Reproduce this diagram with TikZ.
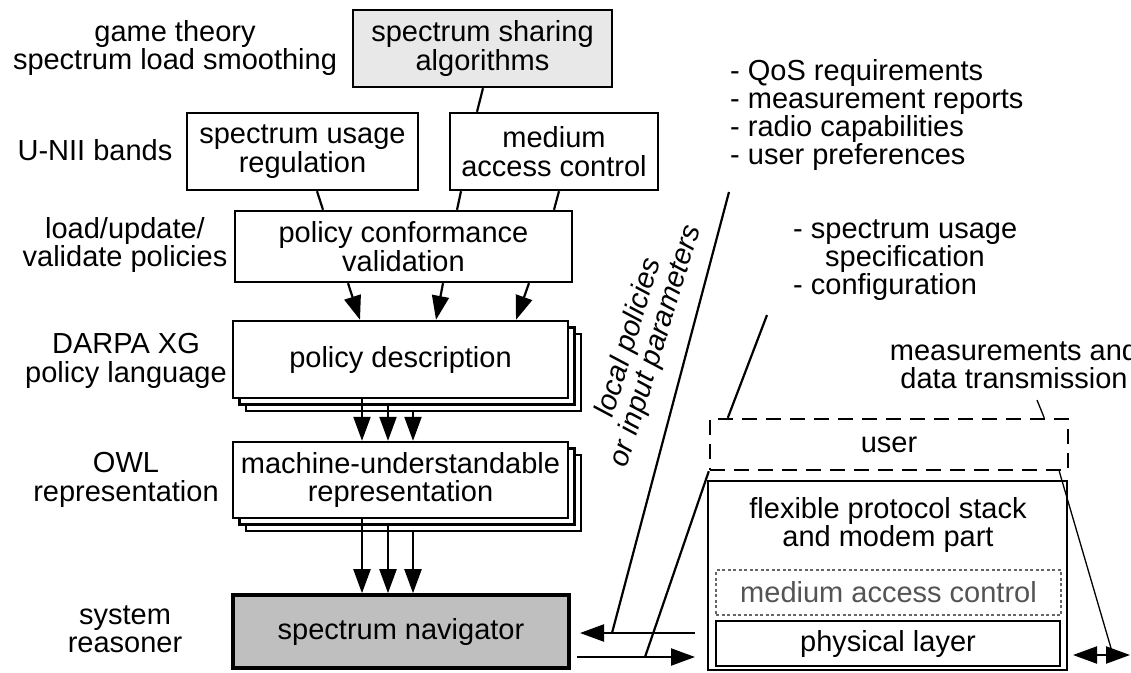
\documentclass[tikz,border=0pt]{standalone}
\usepackage{fontspec}
\setmainfont{Liberation Sans}
\usetikzlibrary{arrows.meta,shadows,calc}
\newcommand\dfont{\fontsize{29pt}{28.3pt}\selectfont}
\definecolor{sharefill}{gray}{0.91}
\definecolor{navfill}{gray}{0.75}
\definecolor{macgray}{gray}{0.4}
\definecolor{mactext}{gray}{0.33}
\begin{document}
\begin{tikzpicture}[x=1pt,y=-1pt,
  every node/.style={font=\dfont, inner sep=0pt, align=center},
  box/.style={draw, line width=2.4pt, fill=white},
  stackbox/.style={box,
    copy shadow={shadow xshift=13pt,shadow yshift=-13pt},
    copy shadow={shadow xshift=6.5pt,shadow yshift=-6.5pt}},
  link/.style={line width=2.2pt},
  thinlink/.style={line width=1.3pt},
  arr/.style={line width=2.2pt, -{Triangle[length=24pt,width=17pt]}},
  darr/.style={line width=2.2pt, {Triangle[length=24pt,width=17pt]}-{Triangle[length=24pt,width=17pt]}},
]
\clip (0,0) rectangle (1131,672);

% left column: layer descriptions
\node (l1) at (175,48) {game theory\\spectrum load smoothing};
\node (l2) at (95,150) {U-NII bands};
\node (l3) at (125,245) {load/update/\\validate policies};
\node (l4) at (126,361) {DARPA XG\\policy language};
\node (l5) at (126,480) {OWL\\representation};
\node (l6) at (125,629) {system\\reasoner};

% policy chain
\node[box, fill=sharefill, minimum width=259pt, minimum height=77pt] (sa) at (482.5,48.5) {spectrum sharing\\algorithms};
\node[box, minimum width=231pt, minimum height=77pt] (ur) at (302.5,151.5) {spectrum usage\\regulation};
\node[box, minimum width=208pt, minimum height=77pt] (mac) at (554,151.5) {medium\\access control};
\node[box, minimum width=337pt, minimum height=71pt] (cv) at (403.5,246.5) {policy conformance\\validation};
\node[stackbox, minimum width=335pt, minimum height=77pt] (pd) at (400.5,359.5) {policy description};
\node[stackbox, minimum width=335pt, minimum height=76pt] (mu) at (400.5,480) {machine-understandable\\representation};
\node[box, line width=3.6pt, fill=navfill, minimum width=336pt, minimum height=73pt] (nav) at (401,631.5) {spectrum navigator};

\draw[link] ([xshift=0.5pt]sa.south) -- ([xshift=-77pt]mac.north);
\draw[link] ([xshift=14.5pt]ur.south) -- ([xshift=-80.5pt]cv.north);
\draw[link] ([xshift=-93pt]mac.south) -- ([xshift=53.5pt]cv.north);
\draw[link] ([xshift=5pt]mac.south) -- ([xshift=150.5pt]cv.north);

\draw[arr] ([xshift=-55.5pt]cv.south) -- ([xshift=-40.5pt]pd.north);
\draw[arr] ([xshift=39.5pt]cv.south) -- ([xshift=35.5pt]pd.north);
\draw[arr] ([xshift=125.5pt]cv.south) -- ([xshift=115.5pt]pd.north);

\draw[arr] ([xshift=-38.5pt]pd.south) -- ([xshift=-38.5pt]mu.north);
\draw[arr] ([xshift=-12.5pt,yshift=-6.5pt]pd.south) -- ([xshift=-12.5pt]mu.north);
\draw[arr] ([xshift=12.5pt,yshift=-13pt]pd.south) -- ([xshift=12.5pt]mu.north);

\draw[arr] ([xshift=-38.5pt]mu.south) -- ([xshift=-38.5pt]mu.south |- nav.north);
\draw[arr] ([xshift=-12.5pt,yshift=-6.5pt]mu.south) -- ([xshift=-12.5pt]mu.south |- nav.north);
\draw[arr] ([xshift=12.5pt,yshift=-13pt]mu.south) -- ([xshift=12.5pt]mu.south |- nav.north);

% terminal side
\node[anchor=west, align=left] (qos) at (730,115) {- QoS requirements\\- measurement reports\\- radio capabilities\\- user preferences};
\node[anchor=west, align=left] (sus) at (793,260) {- spectrum usage\\\hspace*{32pt}specification\\- configuration};
\node (meas) at (1014,364) {measurements and\\data transmission};
\node[draw, line width=2.4pt, dash pattern=on 15pt off 9pt, minimum width=358pt, minimum height=51pt] (ub) at (889,444.5) {user};
\node[box, minimum width=359pt, minimum height=189pt] (fx) at (887.5,575.5) {};
\node (fxt) at (888,525) {flexible protocol stack\\and modem part};
\node[draw=macgray, line width=1.5pt, dash pattern=on 3pt off 2.5pt, text=mactext, minimum width=345pt, minimum height=45pt] (mc) at (888.5,592.5) {medium access control};
\node[draw, line width=2.4pt, minimum width=344pt, minimum height=45pt] (phy) at (888,643.5) {physical layer};

\node[rotate=73, font=\dfont\itshape] (lp) at (643,342) {local policies\\or input parameters};

% exchange between navigator and terminal
\coordinate (upR) at (695,633);
\coordinate (upL) at (580,633);
\coordinate (loL) at (577,657);
\coordinate (loR) at (695,657);
\draw[arr] (upR) -- (upL);
\draw[arr] (loL) -- (loR);

\coordinate (qosEnd) at (729,192);
\coordinate (upJ) at (612,633);
\draw[link] (qosEnd) -- (upJ);
\coordinate (susEnd) at (767,315);
\draw[link] (susEnd) -- ([xshift=19pt]ub.north west);
\coordinate (loJ) at (645,657);
\draw[link] (ub.south west) -- (loJ);

\coordinate (dL) at (1073,655);
\coordinate (dR) at (1130,655);
\draw[darr] (dL) -- (dR);
\coordinate (dJ) at (1113,655);
\draw[thinlink] ([xshift=-10pt]ub.south east) -- (dJ);
\coordinate (measEnd) at (1037,400);
\draw[thinlink] (measEnd) -- ([xshift=-25pt]ub.north east);
\end{tikzpicture}
\end{document}
